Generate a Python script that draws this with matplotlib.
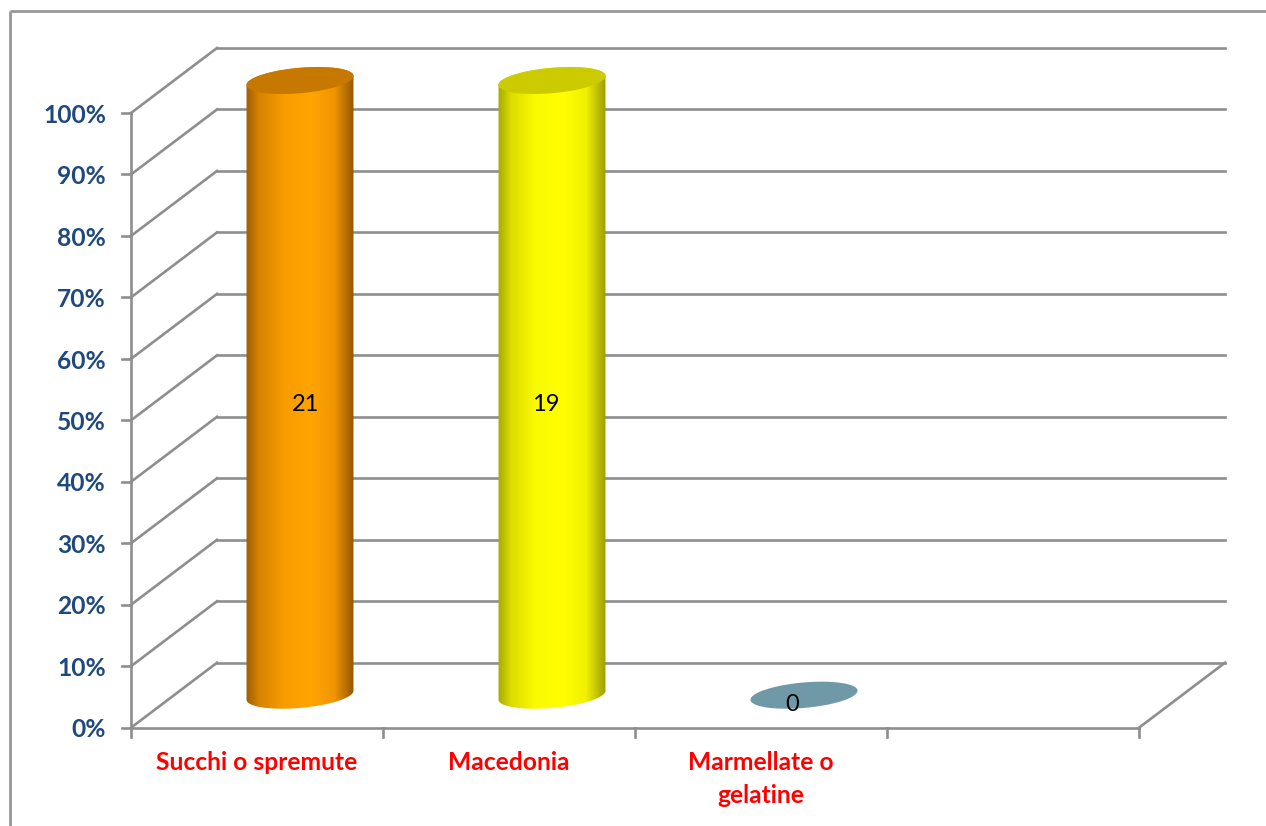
import matplotlib

matplotlib.use("Agg")
import matplotlib.pyplot as plt
import numpy as np
from matplotlib.colors import LinearSegmentedColormap
from matplotlib.patches import Polygon

plt.rcParams["font.family"] = ["Lato", "DejaVu Sans"]

categories = ["Succhi o spremute", "Macedonia", "Marmellate o\ngelatine"]
shares = [100, 100, 0]
counts = [21, 19, 0]
y_ticks = [0, 10, 20, 30, 40, 50, 60, 70, 80, 90, 100]
n_slots = 4

side_stops = [
    [(0, "#a05e00"), (0.12, "#d68300"), (0.35, "#f89c00"), (0.6, "#ffa500"), (0.82, "#f09500"), (1, "#945600")],
    [(0, "#a8a800"), (0.12, "#dcdc00"), (0.35, "#fbfb00"), (0.6, "#ffff00"), (0.82, "#f0f000"), (1, "#9c9c00")],
    [(0, "#7099a8"), (1, "#7099a8")],
]
top_colors = ["#c67800", "#cbcb00", "#7099a8"]

GREY = "#8e8e8e"
BLUE = "#1f497d"

# plot box on the canvas, pixels
W, H = 1266, 826
X0, SLOT = 131.0, 252.0
Y0, UNIT = 727.7, 6.147
DEPTH_X, DEPTH_Y = 86.0 / SLOT, 65.0 / UNIT  # 3d shift in data units
EL_A, EL_B, EL_TILT = 53.7, 12.7, np.radians(5.1)

fig = plt.figure(figsize=(W / 100, H / 100), dpi=100)
ax = fig.add_axes([0, 0, 1, 1])
ax.set_axis_off()
xlim = (-X0 / SLOT, (W - X0) / SLOT)
ylim = ((Y0 - H) / UNIT, Y0 / UNIT)


def ellipse_xy(cx, cy, t):
    # tilted ellipse, sized in pixels and returned in data units
    dx = EL_A * np.cos(t) * np.cos(EL_TILT) - EL_B * np.sin(t) * np.sin(EL_TILT)
    dy = EL_A * np.cos(t) * np.sin(EL_TILT) + EL_B * np.sin(t) * np.cos(EL_TILT)
    return np.column_stack([cx + dx / SLOT, cy + dy / UNIT])


def draw_cylinder(i, share):
    cx = i + 0.5 + DEPTH_X / 2
    cy = DEPTH_Y / 2
    t0 = np.arctan2(EL_B * np.sin(EL_TILT), EL_A * np.cos(EL_TILT))
    if share > 0:
        ts_low = np.linspace(t0 + np.pi, t0 + 2 * np.pi, 80)
        ts_up = np.linspace(t0, t0 + np.pi, 80)
        outline = np.vstack([ellipse_xy(cx, cy, ts_low), ellipse_xy(cx, cy + share, ts_up)])
        cmap = LinearSegmentedColormap.from_list(f"side{i}", side_stops[i])
        half = EL_A / SLOT
        img = ax.imshow(
            np.linspace(0, 1, 256)[None, :], cmap=cmap, aspect="auto", zorder=3,
            extent=(cx - half, cx + half, cy - 5, cy + share + 5),
        )
        img.set_clip_path(Polygon(outline, transform=ax.transData))
    top = ellipse_xy(cx, cy + share, np.linspace(0, 2 * np.pi, 160))
    ax.add_patch(Polygon(top, closed=True, fc=top_colors[i], ec="none", zorder=4))


# outer chart frame, open on the right and at the bottom
frame_style = dict(color="#979797", lw=2.0, transform=fig.transFigure, solid_capstyle="butt")
fig.add_artist(plt.Line2D([9.5 / W, 9.5 / W], [0, 1 - 11 / H], **frame_style))
fig.add_artist(plt.Line2D([9.5 / W, 1], [1 - 11 / H, 1 - 11 / H], **frame_style))

line_style = dict(color=GREY, lw=1.9, zorder=1, solid_capstyle="projecting")
for v in y_ticks:
    ax.plot([0, DEPTH_X], [v, v + DEPTH_Y], **line_style)
    ax.plot([DEPTH_X, n_slots + DEPTH_X], [v + DEPTH_Y, v + DEPTH_Y], **line_style)
    ax.plot([-9 / SLOT, 0], [v, v], **line_style)
    ax.text(-25 / SLOT, v - 0.35, f"{v}%", ha="right", va="center", fontsize=17.7,
            fontweight="bold", color=BLUE)

ax.plot([0, 0], [0, 100], **line_style)
ax.plot([0, n_slots], [0, 0], **line_style)
ax.plot([n_slots, n_slots + DEPTH_X], [0, DEPTH_Y], **line_style)
for s in range(n_slots + 1):
    ax.plot([s, s], [0, -9 / UNIT], **line_style)

label_shift = [(6, -17), (-6, -17), (-12, -9)]
for i, (name, share, count) in enumerate(zip(categories, shares, counts)):
    draw_cylinder(i, share)
    sx, sy = label_shift[i]
    ax.text(i + 0.5 + DEPTH_X / 2 + sx / SLOT, DEPTH_Y / 2 + share / 2 + sy / UNIT, str(count),
            ha="center", va="center", fontsize=17, color="black", zorder=5)
    ax.text(i + 0.5, -23.5 / UNIT, name, ha="center", va="top", fontsize=17.7, fontweight="bold",
            color="#ff0000", linespacing=1.5)

ax.set_xlim(xlim)
ax.set_ylim(ylim)
fig.savefig("out.png", dpi=100)
